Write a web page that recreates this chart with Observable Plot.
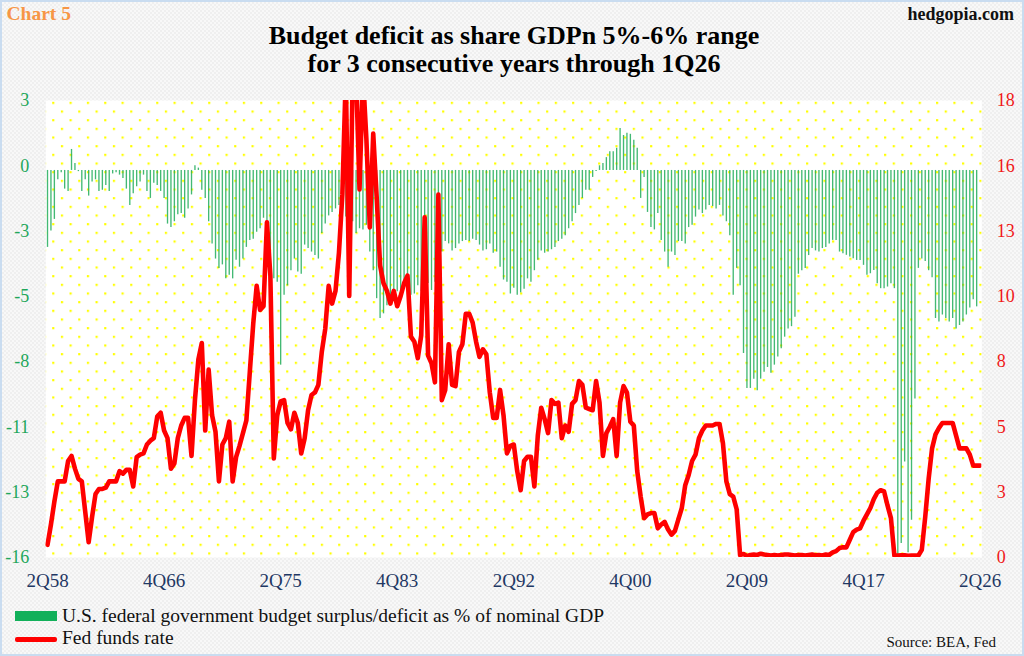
<!DOCTYPE html>
<html>
<head>
<meta charset="utf-8">
<script src="https://cdn.jsdelivr.net/npm/d3@7"></script>
<script src="https://cdn.jsdelivr.net/npm/@observablehq/plot@0.6"></script>
<style>
  html, body { margin: 0; padding: 0; }
  body { width: 1024px; height: 656px; overflow: hidden; }
  #wrap {
    position: relative; width: 1024px; height: 656px; overflow: hidden;
    background-color: #f4f4f4;
    background-image: repeating-conic-gradient(#efefef 0 25%, #f8f8f8 0 50%);
    background-size: 4px 4px;
    font-family: "Liberation Serif", "Times New Roman", serif;
  }
  #chart { position: absolute; left: 0; top: 0; }
  #border { position: absolute; left: 0; top: 0; width: 1024px; height: 656px; box-sizing: border-box; border: 2px solid #c9dcf0; pointer-events: none; }
  .t { position: absolute; white-space: nowrap; }
  #chartno { left: 6.5px; top: 3.5px; font-size: 19.5px; line-height: 19.5px; font-weight: bold; color: #f79646; }
  #site { right: 10px; top: 5px; font-size: 18px; line-height: 18px; font-weight: bold; color: #111; }
  .title { left: 0; width: 1028px; text-align: center; font-size: 26px; line-height: 26px; height: 26px; font-weight: bold; color: #000; }
  #title1 { top: 22.5px; }
  #title2 { top: 51px; }
  .lg { left: 62px; font-size: 19.5px; line-height: 19.5px; color: #111; }
  #lg1 { top: 605.5px; }
  #lg2 { top: 628px; }
  #sw1 { position: absolute; left: 15px; top: 611px; width: 42px; height: 9.5px; background: #12b05a; }
  #sw2 { position: absolute; left: 15px; top: 637px; width: 42px; height: 4.5px; background: #ff0000; border-radius: 2px; }
  #source { right: 28px; top: 634.5px; font-size: 15px; line-height: 15px; color: #111; }
</style>
</head>
<body>
<div id="wrap">
  <div id="chart"></div>
  <div class="t" id="chartno">Chart 5</div>
  <div class="t" id="site">hedgopia.com</div>
  <div class="t title" id="title1">Budget deficit as share GDPn 5%-6% range</div>
  <div class="t title" id="title2">for 3 consecutive years through 1Q26</div>
  <div id="sw1"></div>
  <div class="t lg" id="lg1">U.S. federal government budget surplus/deficit as % of nominal GDP</div>
  <div id="sw2"></div>
  <div class="t lg" id="lg2">Fed funds rate</div>
  <div class="t" id="source">Source: BEA, Fed</div>
  <div id="border"></div>
</div>
<script>
// ---------- data ----------
const startYear = 1958;
const startQuarter = 2;

// U.S. federal government budget surplus/deficit as % of nominal GDP, 2Q58 .. 1Q26
const deficitPct = [
  -3.3,-2.6,-2.1,-0.4,-0.1,-0.8,-0.9,0.9,0.3,-0.05,
  -0.9,-0.4,-1.1,-0.5,-0.4,-0.9,-0.85,-0.65,-0.9,-0.15,
  -0.1,-0.2,-0.35,-0.8,-1.5,-1.0,-0.7,-0.5,-0.2,-0.9,
  -1.2,-0.55,-0.65,-0.9,-1.2,-2.3,-2.45,-2.2,-1.9,-1.85,
  -2.05,-1.65,-1.05,0.2,0.1,-0.85,-1.2,-2.2,-3.15,-3.8,
  -4.2,-4.05,-4.65,-4.5,-4.65,-3.85,-4.15,-3.8,-3.3,-3.0,
  -2.95,-2.65,-2.5,-2.05,-2.35,-3.65,-4.65,-4.8,-8.35,-5.35,
  -4.95,-4.3,-3.8,-4.35,-4.45,-3.2,-3.35,-3.5,-3.65,-3.8,
  -2.7,-2.3,-1.95,-1.8,-1.65,-1.5,-1.7,-2.0,-2.45,-2.2,
  -2.7,-2.5,-2.55,-2.35,-3.5,-4.3,-5.5,-6.35,-6.15,-5.8,
  -5.65,-5.55,-5.2,-5.35,-5.0,-4.95,-5.35,-5.3,-4.95,-5.2,
  -5.35,-4.85,-5.15,-4.8,-4.2,-3.5,-3.05,-3.15,-3.45,-3.35,
  -3.15,-3.05,-3.0,-3.05,-2.95,-3.0,-3.2,-3.45,-3.4,-3.15,
  -3.55,-3.5,-4.15,-4.7,-4.8,-5.3,-5.05,-5.35,-5.25,-5.1,
  -4.65,-4.8,-4.3,-3.85,-3.45,-3.55,-3.5,-3.4,-3.3,-3.05,
  -2.95,-2.8,-2.5,-2.2,-1.85,-1.5,-1.2,-0.85,-0.85,-0.3,
  -0.05,0.2,0.3,0.55,0.8,0.8,0.95,1.8,1.5,1.6,
  1.55,1.3,0.95,-1.2,-0.3,-1.8,-2.45,-2.55,-1.85,-3.0,
  -3.5,-4.15,-3.5,-3.65,-3.05,-3.05,-3.15,-2.45,-2.35,-2.0,
  -1.7,-1.85,-1.7,-1.5,-1.55,-1.65,-1.5,-1.95,-2.2,-2.8,
  -5.35,-4.2,-4.95,-7.85,-9.35,-9.35,-8.95,-9.45,-8.95,-8.65,
  -8.45,-8.7,-8.35,-8.0,-7.65,-7.15,-6.8,-6.7,-6.3,-4.45,
  -4.3,-4.2,-3.65,-3.35,-3.45,-3.5,-3.35,-3.3,-3.15,-3.0,
  -3.0,-3.5,-3.57,-3.64,-3.71,-3.79,-3.86,-3.86,-4.07,-4.5,
  -4.43,-4.29,-4.86,-5.07,-5.07,-5.0,-4.86,-5.07,-16.5,-16.0,
  -12.5,-16.4,-15.0,-9.8,-4.2,-3.8,-3.9,-4.3,-4.6,-6.35,
  -6.5,-6.2,-6.35,-6.5,-6.35,-6.8,-6.65,-6.5,-6.2,-5.9,
  -5.55,-5.85
];

// Fed funds rate (%), 2Q58 .. 2Q26
const fedFunds = [
  0.5,1.3,2.2,3.0,3.0,3.0,3.8,4.0,3.5,3.1,
  3.0,1.8,0.6,1.6,2.5,2.7,2.7,2.75,3.0,3.0,
  3.0,3.4,3.3,3.45,3.45,2.8,3.95,4.05,4.1,4.45,
  4.6,4.7,5.55,5.7,5.0,4.7,3.5,3.7,4.7,5.2,
  5.5,5.5,4.0,6.2,7.8,8.45,5.0,7.4,5.6,4.95,
  3.0,4.45,4.7,5.35,3.0,3.95,4.4,4.9,5.4,7.3,
  9.2,10.7,9.75,9.9,13.2,11.1,3.9,5.6,6.15,6.2,
  5.3,5.05,5.7,5.3,4.1,4.7,5.8,6.4,6.5,6.8,
  8.1,9.0,10.7,10.0,10.5,12.0,14.3,19.0,10.3,19.0,
  19.0,14.5,19.0,16.5,13.0,16.7,14.2,11.5,10.8,10.5,
  10.0,10.5,9.9,10.3,10.8,11.1,8.7,8.5,7.85,8.75,
  13.4,7.95,7.65,6.9,14.3,6.2,6.6,8.4,6.8,6.75,
  8.1,8.4,9.6,9.6,9.25,8.5,7.9,8.2,8.0,6.5,
  5.5,5.5,6.6,5.6,4.1,4.4,4.45,3.4,2.65,3.8,
  3.97,3.97,2.8,4.8,5.9,5.45,4.9,6.2,6.05,6.1,
  4.7,5.2,4.95,6.05,6.2,6.95,6.8,5.9,5.85,5.8,
  6.95,6.1,4.0,4.9,5.15,5.45,4.0,6.1,6.75,6.5,
  5.35,5.2,3.4,2.4,1.55,1.7,1.75,1.75,1.15,1.3,
  1.4,1.1,0.9,1.05,1.5,1.95,2.85,3.25,3.8,4.05,
  4.7,5.0,5.2,5.2,5.2,5.26,5.26,4.5,3.0,2.5,
  2.4,1.9,0.1,0.14,0.05,0.1,0.12,0.1,0.15,0.12,
  0.1,0.08,0.1,0.08,0.1,0.12,0.12,0.1,0.08,0.1,
  0.1,0.08,0.1,0.12,0.09,0.1,0.08,0.12,0.1,0.2,
  0.25,0.37,0.4,0.4,0.7,1.0,1.1,1.15,1.45,1.7,
  1.95,2.3,2.55,2.65,2.6,2.05,1.55,0.08,0.08,0.09,
  0.09,0.07,0.08,0.08,0.08,0.3,1.6,3.1,4.3,4.85,
  5.1,5.3,5.3,5.3,5.3,4.8,4.3,4.3,4.3,4.05,
  3.62,3.62,3.62
];

const leftTickLabels  = ["3", "0", "-3", "-5", "-8", "-11", "-13", "-16"];
const rightTickLabels = ["18", "16", "13", "10", "8", "5", "3", "0"];
const xTickLabels = ["2Q58", "4Q66", "2Q75", "4Q83", "2Q92", "4Q00", "2Q09", "4Q17", "2Q26"];

const leftMin = -16.6, leftMax = 3, rightMax = 18;

// ---------- build ----------
const quarters = d3.range(fedFunds.length).map(i => {
  const k = startQuarter - 1 + i;
  const yr = (startYear + Math.floor(k / 4)) % 100;
  return `${k % 4 + 1}Q${String(yr).padStart(2, "0")}`;
});
const defData = deficitPct.map((v, i) => ({i, v}));
const ffData = fedFunds.map((v, i) => ({i, v}));
const nT = leftTickLabels.length - 1;
const yTicks = leftTickLabels.map((_, k) => leftMax - k * (leftMax - leftMin) / nT);
const leftMap = new Map(yTicks.map((t, k) => [t, leftTickLabels[k]]));
const rightMap = new Map(yTicks.map((t, k) => [t, rightTickLabels[k]]));
const xTicks = xTickLabels.map(l => quarters.indexOf(l));
const ffToLeft = v => leftMin + v * (leftMax - leftMin) / rightMax;

const chart = Plot.plot({
  width: 1024,
  height: 656,
  marginTop: 100,
  marginBottom: 99,
  marginLeft: 45.3,
  marginRight: 42.7,
  style: {background: "transparent", fontFamily: "'Liberation Serif', 'Times New Roman', serif"},
  x: {type: "linear", domain: [-0.5, fedFunds.length - 0.5]},
  y: {domain: [leftMin, leftMax]},
  marks: [
    Plot.frame({fill: "#ffffff", stroke: "none"}),
    Plot.frame({fill: "url(#dots)", stroke: "none"}),
    Plot.ruleX(defData, {x: "i", y1: 0, y2: "v", stroke: "#22ad5c", strokeWidth: 1.35, strokeOpacity: 0.85}),
    Plot.line(ffData, {x: "i", y: d => ffToLeft(d.v), stroke: "#ff0000", strokeWidth: 4.6, strokeLinejoin: "round", strokeLinecap: "round", clip: true}),
    Plot.axisY({anchor: "left", ticks: yTicks, tickFormat: d => leftMap.get(d), tickSize: 0, tickPadding: 16.5, color: "#1fa75b", fontSize: 18, label: null}),
    Plot.axisY({anchor: "right", ticks: yTicks, tickFormat: d => rightMap.get(d), tickSize: 0, tickPadding: 15, color: "#f01818", fontSize: 18, label: null}),
    Plot.axisX({ticks: xTicks, tickFormat: d => quarters[d], tickSize: 0, tickPadding: 16, color: "#1f3864", fontSize: 19, label: null})
  ]
});

// dotted background pattern for the plot area
const ns = "http://www.w3.org/2000/svg";
const defs = document.createElementNS(ns, "defs");
const pat = document.createElementNS(ns, "pattern");
pat.setAttribute("id", "dots");
pat.setAttribute("patternUnits", "userSpaceOnUse");
pat.setAttribute("x", "51.7");
pat.setAttribute("y", "101.3");
pat.setAttribute("width", "17.33");
pat.setAttribute("height", "17.33");
[[0, 0], [8.665, 8.665]].forEach(([px, py]) => {
  const r = document.createElementNS(ns, "rect");
  r.setAttribute("x", px); r.setAttribute("y", py);
  r.setAttribute("width", "2.2"); r.setAttribute("height", "2.2");
  r.setAttribute("fill", "#ffff00");
  pat.appendChild(r);
});
defs.appendChild(pat);
chart.insertBefore(defs, chart.firstChild);

document.getElementById("chart").appendChild(chart);
</script>
</body>
</html>
